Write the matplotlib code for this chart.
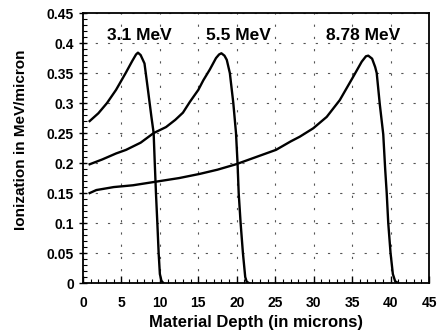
import matplotlib
matplotlib.use("Agg")
import matplotlib.pyplot as plt
from matplotlib.ticker import MultipleLocator

plt.rcParams['font.family'] = ['Liberation Sans', 'DejaVu Sans']
plt.rcParams['font.weight'] = 'bold'

x_31 = [0.87, 2.0, 3.12, 4.3, 5.55, 6.4, 6.9, 7.15, 7.5, 8.0, 8.45, 8.9, 9.19, 9.32, 9.49, 9.67, 9.84, 10.0, 10.2, 10.45]
y_31 = [0.27, 0.283, 0.30, 0.322, 0.35, 0.37, 0.381, 0.384, 0.38, 0.366, 0.322, 0.277, 0.25, 0.205, 0.15, 0.10, 0.05, 0.015, 0.004, 0.0]

x_55 = [0.87, 2.5, 4.3, 5.6, 7.5, 9.19, 10.8, 12.0, 13.0, 13.9, 15.0, 15.65, 16.5, 17.3, 17.7, 18.0, 18.4, 18.7, 19.1, 19.55, 19.9, 20.1, 20.25, 20.5, 20.8, 21.1, 21.3, 21.6]
y_55 = [0.198, 0.206, 0.216, 0.222, 0.234, 0.25, 0.26, 0.272, 0.284, 0.302, 0.322, 0.338, 0.356, 0.375, 0.381, 0.383, 0.379, 0.372, 0.35, 0.30, 0.25, 0.20, 0.15, 0.10, 0.05, 0.01, 0.002, 0.0]

x_878 = [0.87, 1.73, 4.0, 6.5, 9.5, 12.5, 15.2, 17.5, 19.9, 22.5, 25.1, 27.0, 28.2, 29.95, 31.7, 33.4, 35.15, 36.25, 36.8, 37.1, 37.6, 38.0, 38.2, 38.6, 39.05, 39.3, 39.5, 39.7, 40.0, 40.3, 40.6, 41.0]
y_878 = [0.15, 0.155, 0.16, 0.163, 0.169, 0.175, 0.182, 0.189, 0.198, 0.21, 0.222, 0.236, 0.244, 0.258, 0.277, 0.305, 0.344, 0.369, 0.378, 0.379, 0.374, 0.36, 0.35, 0.298, 0.248, 0.19, 0.15, 0.10, 0.05, 0.015, 0.003, 0.0]

labels = ["3.1 MeV", "5.5 MeV", "8.78 MeV"]
label_x = [7.35, 20.2, 36.4]
label_y = 0.412

fig = plt.figure(figsize=(4.4, 3.35), dpi=100)
ax = fig.add_axes([0.1886, 0.155, 0.7864, 0.806])

for xs, ys in [(x_31, y_31), (x_55, y_55), (x_878, y_878)]:
    ax.plot(xs, ys, color='black', linewidth=1.7, solid_joinstyle='round')

for t, lx in zip(labels, label_x):
    ax.text(lx, label_y, t, ha='center', va='center', fontsize=12.5, fontweight='bold')

ax.set_xlim(0, 45)
ax.set_ylim(0, 0.45)
ax.xaxis.set_major_locator(MultipleLocator(5))
ax.xaxis.set_minor_locator(MultipleLocator(1))
ax.yaxis.set_minor_locator(MultipleLocator(0.01))
ax.set_yticks([0, 0.05, 0.1, 0.15, 0.2, 0.25, 0.3, 0.35, 0.4, 0.45])
ax.set_yticklabels(['0', '0.05', '0.1', '0.15', '0.2', '0.25', '0.3', '0.35', '0.4', '0.45'])
ax.tick_params(axis='x', which='major', direction='in', length=5, width=1, labelsize=10, pad=9)
ax.tick_params(axis='x', which='minor', direction='in', length=3, width=0.8)
ax.tick_params(axis='y', which='major', direction='inout', length=6, width=1, labelsize=10)
ax.tick_params(axis='y', which='minor', direction='in', length=3, width=0.8)
for lab in ax.get_xticklabels() + ax.get_yticklabels():
    lab.set_fontweight('bold')

ax.grid(True, which='major', color='#555555', linestyle=(0, (2, 9)), linewidth=0.8)
for s in ax.spines.values():
    s.set_linewidth(1.3)

ax.set_xlabel("Material Depth (in microns)", fontsize=12, fontweight='bold')
ax.set_ylabel("Ionization in MeV/micron", fontsize=11, fontweight='bold')
ax.xaxis.set_label_coords(0.5, -0.118)
ax.yaxis.set_label_coords(-0.16, 0.53)

fig.savefig("out.png", dpi=100)
